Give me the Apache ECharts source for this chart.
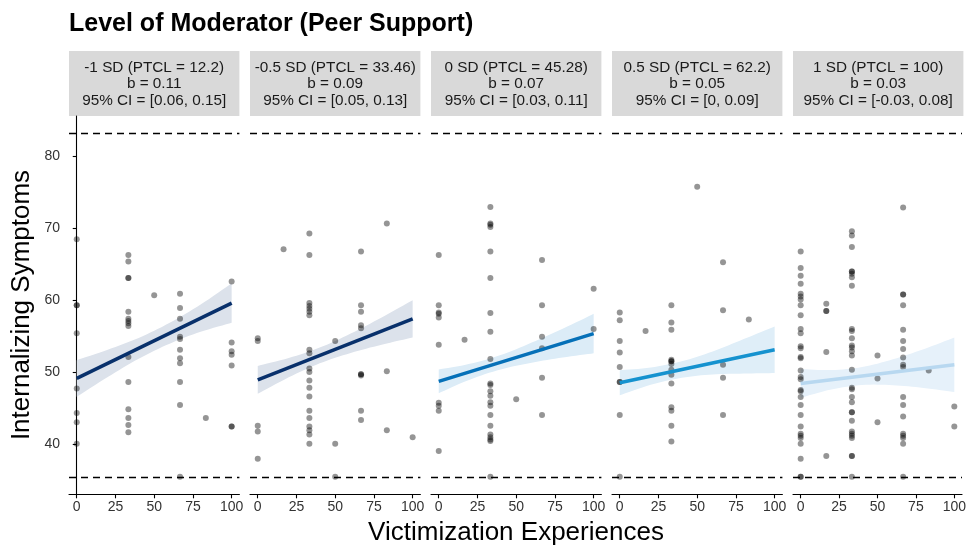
<!DOCTYPE html>
<html>
<head>
<meta charset="utf-8">
<script src="https://cdn.jsdelivr.net/npm/echarts@6/dist/echarts.min.js"></script>
<style>
html,body{margin:0;padding:0;background:#fff;}
#chart{width:969px;height:547px;}
</style>
</head>
<body>
<div id="chart"></div>
<script>
// ---------- data ----------
const titleText = "Level of Moderator (Peer Support)";
const xTitle = "Victimization Experiences";
const yTitle = "Internalizing Symptoms";
const xTicks = [0, 25, 50, 75, 100];
const yTicks = [40, 50, 60, 70, 80];
const refLines = [83.26, 35.36];

const stripLabels = [
  "-1 SD (PTCL = 12.2)\nb = 0.11\n95% CI = [0.06, 0.15]",
  "-0.5 SD (PTCL = 33.46)\nb = 0.09\n95% CI = [0.05, 0.13]",
  "0 SD (PTCL = 45.28)\nb = 0.07\n95% CI = [0.03, 0.11]",
  "0.5 SD (PTCL = 62.2)\nb = 0.05\n95% CI = [0, 0.09]",
  "1 SD (PTCL = 100)\nb = 0.03\n95% CI = [-0.03, 0.08]"
];
const lineColors = ["#08306B", "#08306B", "#0570B8", "#1592CF", "#B8D8F0"];
const bandColors = ["#DCE2EB", "#DCE2EB", "#DCECF7", "#DFEEF8", "#E6F1FA"];

const p1Points = [[0,68.5],[0,59.3],[0,59.3],[0,55.4],[0,47.7],[0,44.3],[0,43.0],[0,40.0],
  [33.33,66.3],[33.33,65.4],[33.33,63.1],[33.33,63.1],[33.33,58.4],[33.33,57.4],[33.33,57.1],[33.33,56.8],[33.33,56.4],[33.33,52.1],[33.33,48.6],[33.33,44.8],[33.33,43.6],[33.33,42.6],[33.33,41.6],
  [50,60.7],
  [66.67,60.9],[66.67,58.9],[66.67,57.4],[66.67,54.9],[66.67,54.6],[66.67,53.1],[66.67,51.9],[66.67,51.2],[66.67,48.6],[66.67,45.4],[66.67,35.4],
  [83.33,43.6],
  [100,62.6],[100,54.1],[100,52.9],[100,52.4],[100,50.9],[100,42.4],[100,42.4]];
const p2Points = [[0,54.7],[0,54.3],[0,42.5],[0,41.7],[0,37.9],
  [16.67,67.1],
  [33.33,69.3],[33.33,66.3],[33.33,59.6],[33.33,59.2],[33.33,58.8],[33.33,58.4],[33.33,57.9],[33.33,53.1],[33.33,52.6],[33.33,50.5],[33.33,50.0],[33.33,48.8],[33.33,47.8],[33.33,46.6],[33.33,44.6],[33.33,43.6],[33.33,42.4],[33.33,41.9],[33.33,41.3],[33.33,40.0],
  [50,54.3],[50,40.0],[50,35.4],
  [66.67,66.8],[66.67,59.3],[66.67,58.4],[66.67,56.5],[66.67,56.1],[66.67,49.7],[66.67,49.7],[66.67,49.5],[66.67,44.6],[66.67,43.3],
  [83.33,70.7],[83.33,50.1],[83.33,41.9],
  [100,40.9]];
const p3Points = [[0,66.3],[0,59.3],[0,58.3],[0,58.1],[0,57.6],[0,53.8],[0,45.7],[0,45.3],[0,44.6],[0,39.0],
  [16.67,54.5],
  [33.33,73.0],[33.33,70.7],[33.33,70.5],[33.33,70.2],[33.33,66.8],[33.33,63.1],[33.33,58.2],[33.33,55.6],[33.33,51.8],[33.33,48.4],[33.33,48.2],[33.33,47.3],[33.33,46.7],[33.33,45.8],[33.33,45.3],[33.33,44.0],[33.33,42.5],[33.33,41.3],[33.33,40.9],[33.33,40.6],[33.33,40.4],[33.33,35.4],
  [50,46.2],
  [66.67,65.6],[66.67,59.3],[66.67,54.9],[66.67,53.3],[66.67,49.2],[66.67,44.0],
  [100,61.6],[100,56.0]];
const p4Points = [[0,58.3],[0,57.2],[0,54.3],[0,52.7],[0,50.7],[0,48.6],[0,48.6],[0,44.0],[0,35.4],
  [16.67,55.7],
  [33.33,59.3],[33.33,56.9],[33.33,55.9],[33.33,51.7],[33.33,51.5],[33.33,51.5],[33.33,51.1],[33.33,50.3],[33.33,49.6],[33.33,48.4],[33.33,45.1],[33.33,44.6],[33.33,42.5],[33.33,40.3],
  [50,75.8],
  [66.67,65.3],[66.67,58.6],[66.67,51.0],[66.67,49.2],[66.67,44.0],
  [83.33,57.3]];
const p5Points = [[0,66.8],[0,64.5],[0,63.4],[0,62.3],[0,60.9],[0,60.5],[0,60.1],[0,59.3],[0,57.9],[0,56.0],[0,55.4],[0,53.6],[0,53.3],[0,52.1],[0,51.9],[0,50.2],[0,49.3],[0,49.0],[0,47.5],[0,47.3],[0,46.5],[0,45.4],[0,44.0],[0,42.4],[0,41.4],[0,41.1],[0,40.8],[0,40.0],[0,37.9],[0,35.4],[0,35.4],
  [16.67,59.5],[16.67,58.5],[16.67,58.5],[16.67,52.8],[16.67,38.3],
  [33.33,69.6],[33.33,69.0],[33.33,67.4],[33.33,64.0],[33.33,64.0],[33.33,63.7],[33.33,63.2],[33.33,62.0],[33.33,56.0],[33.33,55.7],[33.33,54.7],[33.33,53.7],[33.33,53.4],[33.33,52.9],[33.33,52.3],[33.33,50.3],[33.33,47.8],[33.33,47.6],[33.33,46.5],[33.33,45.8],[33.33,44.4],[33.33,44.4],[33.33,43.2],[33.33,41.7],[33.33,41.4],[33.33,41.1],[33.33,40.8],[33.33,38.3],[33.33,38.3],[33.33,35.4],
  [50,52.3],[50,49.1],[50,43.0],
  [66.67,72.9],[66.67,60.8],[66.67,60.8],[66.67,59.3],[66.67,55.9],[66.67,54.3],[66.67,53.2],[66.67,52.0],[66.67,51.0],[66.67,50.7],[66.67,46.5],[66.67,45.4],[66.67,43.8],[66.67,41.4],[66.67,41.1],[66.67,40.8],[66.67,40.0],[66.67,35.4],
  [83.33,50.2],
  [100,45.2],[100,42.4]];
const allPoints = [p1Points, p2Points, p3Points, p4Points, p5Points];

// fitted lines (endpoints at x = 0 and x = 100)
const fitX = [0, 100];
const fitY = [[49.1, 59.6], [48.9, 57.4], [48.7, 55.35], [48.5, 53.1], [48.4, 51.0]];

// confidence bands
const bandX = [0, 20, 40, 60, 80, 100];
const bandLower = [
  [46.55, 49.3, 51.85, 53.95, 55.6, 56.85],
  [46.95, 49.25, 51.2, 52.65, 53.8, 54.8],
  [47.05, 48.93, 50.36, 51.29, 52.02, 52.6],
  [46.75, 48.22, 49.19, 49.66, 49.78, 49.85],
  [46.4, 47.57, 48.19, 48.16, 47.78, 47.2]
];
const bandUpper = [
  [51.65, 53.1, 54.75, 56.85, 59.4, 62.35],
  [50.85, 51.95, 53.4, 55.35, 57.6, 60.0],
  [50.35, 51.13, 52.36, 54.09, 56.02, 58.1],
  [50.25, 50.62, 51.49, 52.86, 54.58, 56.35],
  [50.4, 50.27, 50.69, 51.76, 53.18, 54.8]
];

// ---------- layout ----------
const FONT = "'Liberation Sans', Arial, Helvetica, sans-serif";
const gLeft = 69, gStep = 181, gWidth = 170.4, gTop = 116, gHeight = 378.3;
const stripTop = 51, stripH = 65;

// smooth a pixel-space polyline (Catmull-Rom) for drawing only
function smoothPixels(pts) {
  const out = [];
  const n = pts.length;
  for (let i = 0; i < n - 1; i++) {
    const p0 = pts[Math.max(i - 1, 0)], p1 = pts[i], p2 = pts[i + 1], p3 = pts[Math.min(i + 2, n - 1)];
    for (let s = 0; s < 8; s++) {
      const t = s / 8, t2 = t * t, t3 = t2 * t;
      const f = (a, b, c, d) => 0.5 * ((2 * b) + (-a + c) * t + (2 * a - 5 * b + 4 * c - d) * t2 + (-a + 3 * b - 3 * c + d) * t3);
      out.push([f(p0[0], p1[0], p2[0], p3[0]), f(p0[1], p1[1], p2[1], p3[1])]);
    }
  }
  out.push(pts[n - 1]);
  return out;
}

const chart = echarts.init(document.getElementById('chart'), null, {renderer: 'canvas'});

const grids = [], xAxes = [], yAxes = [], series = [], graphics = [];

graphics.push({type: 'text', left: gLeft, top: 12,
  style: {text: titleText, font: "bold 25px " + FONT, fill: '#000'}});
graphics.push({type: 'text', x: 516, y: 533,
  style: {text: xTitle, font: "26px " + FONT, fill: '#000', align: 'center', verticalAlign: 'middle'}});
graphics.push({type: 'text', x: 22, y: 305, rotation: Math.PI / 2,
  style: {text: yTitle, font: "26px " + FONT, fill: '#000', align: 'center', verticalAlign: 'middle'}});

for (let i = 0; i < 5; i++) {
  const left = gLeft + i * gStep;
  grids.push({left: left, top: gTop, width: gWidth, height: gHeight, containLabel: false});
  xAxes.push({
    type: 'value', gridIndex: i, min: -5, max: 105,
    axisLine: {show: true, lineStyle: {color: '#000', width: 1.1}},
    axisTick: {show: true, length: 4, lineStyle: {color: '#000', width: 1.1}, customValues: xTicks},
    axisLabel: {show: true, color: '#333', fontSize: 14, fontFamily: FONT, margin: 6, customValues: xTicks},
    splitLine: {show: false}
  });
  yAxes.push({
    type: 'value', gridIndex: i, min: 32.96, max: 85.66,
    show: i === 0,
    axisLine: {show: i === 0, lineStyle: {color: '#000', width: 1.1}},
    axisTick: {show: i === 0, length: 4, lineStyle: {color: '#000', width: 1.1}, customValues: yTicks},
    axisLabel: {show: i === 0, color: '#333', fontSize: 14, fontFamily: FONT, margin: 9, customValues: yTicks},
    splitLine: {show: false}
  });

  // strip
  graphics.push({type: 'rect', shape: {x: left, y: stripTop, width: gWidth, height: stripH},
    style: {fill: '#D9D9D9'}, z: 0});
  graphics.push({type: 'text', x: left + gWidth / 2, y: stripTop + stripH / 2 + 0.5,
    style: {text: stripLabels[i], font: "15.3px " + FONT, fill: '#1a1a1a', align: 'center',
      verticalAlign: 'middle', lineHeight: 16.3}, z: 1});

  // confidence band
  series.push({
    type: 'custom', xAxisIndex: i, yAxisIndex: i, silent: true, z: 1,
    data: [0],
    renderItem: (function (idx) {
      return function (params, api) {
        const up = bandX.map((x, k) => api.coord([x, bandUpper[idx][k]]));
        const lo = bandX.map((x, k) => api.coord([x, bandLower[idx][k]]));
        const pts = smoothPixels(up).concat(smoothPixels(lo).reverse());
        return {type: 'polygon', shape: {points: pts}, style: {fill: bandColors[idx]}};
      };
    })(i)
  });

  // points + reference lines
  series.push({
    type: 'scatter', xAxisIndex: i, yAxisIndex: i, z: 2,
    data: allPoints[i], symbolSize: 6,
    itemStyle: {color: 'rgba(0,0,0,0.52)'},
    markLine: {
      silent: true, symbol: 'none', animation: false,
      label: {show: false},
      lineStyle: {color: '#000', type: [7, 5], width: 1.4},
      data: refLines.map(v => ({yAxis: v}))
    }
  });

  // fitted line
  series.push({
    type: 'line', xAxisIndex: i, yAxisIndex: i, z: 3,
    data: fitX.map((x, k) => [x, fitY[i][k]]),
    symbol: 'none', lineStyle: {color: lineColors[i], width: 3.5}
  });
}

chart.setOption({
  animation: false,
  backgroundColor: '#fff',
  grid: grids, xAxis: xAxes, yAxis: yAxes, series: series, graphic: graphics
});
</script>
</body>
</html>
